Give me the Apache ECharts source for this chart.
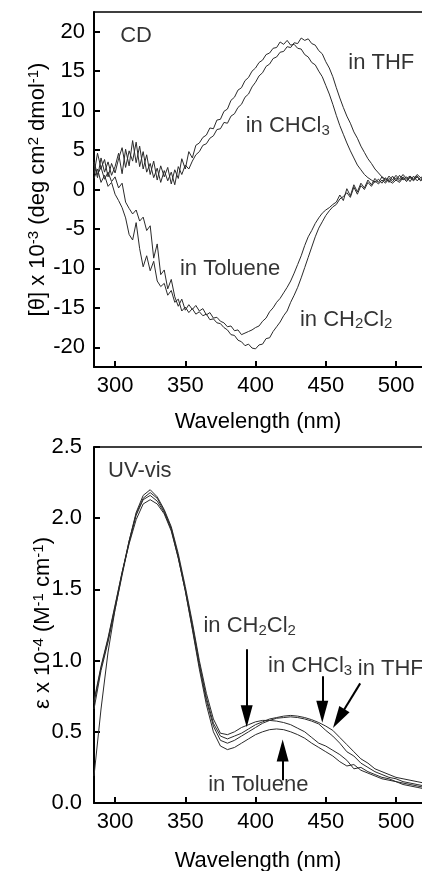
<!DOCTYPE html>
<html>
<head>
<meta charset="utf-8">
<title>CD / UV-vis spectra</title>
<script src="https://cdn.jsdelivr.net/npm/echarts@6/dist/echarts.min.js"></script>
<style>
  html, body { margin: 0; padding: 0; background: #fff; }
  #chart { width: 422px; height: 871px; }
</style>
</head>
<body>
<div id="chart"></div>
<script>
(function () {
    'use strict';

    //////////DATA - CD (deg cm2 dmol-1 x 10^-3), sampled every 2.5 nm
    var cdWavelength = [
        285, 287.5, 290, 292.5, 295, 297.5, 300, 302.5, 305, 307.5,
        310, 312.5, 315, 317.5, 320, 322.5, 325, 327.5, 330, 332.5,
        335, 337.5, 340, 342.5, 345, 347.5, 350, 352.5, 355, 357.5,
        360, 362.5, 365, 367.5, 370, 372.5, 375, 377.5, 380, 382.5,
        385, 387.5, 390, 392.5, 395, 397.5, 400, 402.5, 405, 407.5,
        410, 412.5, 415, 417.5, 420, 422.5, 425, 427.5, 430, 432.5,
        435, 437.5, 440, 442.5, 445, 447.5, 450, 452.5, 455, 457.5,
        460, 462.5, 465, 467.5, 470, 472.5, 475, 477.5, 480, 482.5,
        485, 487.5, 490, 492.5, 495, 497.5, 500, 502.5, 505, 507.5,
        510, 512.5, 515, 517.5, 520
    ];
    var cdTHF = [
        2.0, 4.6, 2.7, 3.8, 1.6, 3.3, 2.1, 3.9, 5.3, 2.8,
        4.9, 3.6, 6.0, 2.9, 4.8, 2.2, 3.3, 1.5, 2.7, 0.9,
        2.4, 1.1, 2.2, 0.6, 2.9, 1.9, 3.1, 2.6, 3.6, 4.4,
        4.8, 5.6, 5.8, 6.5, 6.8, 7.6, 7.7, 8.5, 8.4, 9.3,
        9.6, 10.4, 10.8, 11.7, 12.1, 13.0, 13.6, 14.4, 14.8, 15.6,
        15.9, 16.6, 16.8, 17.4, 17.5, 18.1, 18.0, 18.6, 18.5, 19.2,
        18.9, 19.1, 18.5, 18.3, 17.6, 17.2, 16.2, 15.4, 14.3, 12.9,
        11.6, 10.4, 9.3, 8.4, 7.3, 6.5, 5.5, 4.7, 3.9, 3.3,
        2.6, 2.1, 1.6, 1.3, 1.1, 0.8, 1.2, 0.9, 1.5, 1.0,
        1.6, 1.2, 1.7, 1.1, 1.4
    ];
    var cdCHCl3 = [
        3.2, 1.5, 4.0, 2.2, 3.5, 1.8, 2.9, 4.6, 2.0, 5.1,
        3.0, 6.2, 3.4, 5.5, 2.6, 4.4, 1.9, 3.6, 1.2, 3.0,
        1.6, 2.8, 0.7, 2.5, 1.4, 3.9, 2.6, 4.8, 4.0, 5.6,
        5.9, 6.6, 6.9, 7.8, 7.7, 8.8, 8.9, 9.9, 10.2, 11.3,
        11.7, 12.6, 12.9, 13.8, 14.2, 15.0, 15.4, 16.1, 16.4, 17.1,
        17.3, 17.9, 18.0, 18.7, 18.4, 18.9, 18.3, 18.4, 17.9, 17.8,
        17.1, 16.8, 16.1, 15.8, 15.0, 14.3, 13.2, 12.1, 10.8, 9.4,
        8.1, 7.0, 5.9, 4.9, 4.0, 3.1, 2.5, 1.9, 1.5, 1.2,
        0.9, 1.3, 0.8, 1.5, 0.9, 1.7, 1.1, 1.8, 1.2, 1.6,
        1.0, 1.7, 1.1, 1.5, 1.2
    ];
    var cdToluene = [
        3.5, 1.9, 2.8, 1.3, 2.2, 1.0, 1.6, 0.2, 0.8, -1.6,
        -2.4, -3.1, -2.6, -4.0, -3.5, -5.2, -4.6, -8.7, -6.9, -10.8,
        -10.2, -12.6, -11.4, -13.6, -14.8, -13.9, -15.3, -14.6, -15.2, -14.7,
        -15.4, -15.1, -15.9, -15.6, -16.3, -16.2, -16.7, -16.9, -17.4, -17.3,
        -17.9, -17.8, -18.4, -18.2, -18.0, -17.8, -17.5, -17.3, -16.7, -16.3,
        -15.5, -15.0, -14.3, -13.8, -13.1, -12.4, -11.6, -10.6, -9.5, -8.4,
        -7.1, -6.0, -5.2, -4.3, -3.6, -3.0, -2.6, -2.3, -1.9, -1.6,
        -0.7, -1.4, 0.1, -0.8, 0.6, -0.3, 0.8, 0.2, 1.2, 0.6,
        1.4, 0.9, 1.6, 1.0, 1.7, 1.2, 1.8, 1.3, 1.9, 1.4,
        1.7, 1.3, 1.9, 1.5, 1.7
    ];
    var cdCH2Cl2 = [
        1.4, 2.6, 0.9, 1.8, 0.4, 0.9, -0.6, -1.4, -2.3, -3.6,
        -5.7, -6.4, -4.2, -7.5, -9.8, -8.4, -10.3, -9.1, -11.6, -12.3,
        -11.9, -13.4, -12.8, -14.3, -13.9, -15.4, -14.9, -15.6, -15.1, -15.8,
        -15.5, -16.0, -15.8, -16.5, -16.4, -16.9, -17.0, -17.5, -17.8, -18.4,
        -18.5, -19.1, -19.3, -19.8, -19.6, -20.1, -20.2, -19.7, -19.6, -18.9,
        -18.8, -18.0, -17.4, -16.8, -16.0, -15.4, -14.3, -13.4, -12.4, -11.2,
        -9.9, -8.6, -7.3, -6.0, -4.9, -4.1, -3.3, -2.7, -2.2, -1.9,
        -1.2, -0.9, -0.4, -1.0, 0.3, -0.6, 0.5, 0.0, 0.9, 0.4,
        1.1, 0.7, 1.2, 0.8, 1.4, 1.0, 1.5, 1.1, 1.6, 1.2,
        1.5, 1.1, 1.6, 1.2, 1.4
    ];

    //////////DATA - UV-vis (M-1 cm-1 x 10^-4), sampled every 5 nm
    var uvWavelength = [
        285, 290, 295, 300, 305, 310, 315, 320, 325, 330,
        335, 340, 345, 350, 355, 360, 365, 370, 375, 380,
        385, 390, 395, 400, 405, 410, 415, 420, 425, 430,
        435, 440, 445, 450, 455, 460, 465, 470, 475, 480,
        485, 490, 495, 500, 505, 510, 515, 520
    ];
    var uvTHF = [
        0.70, 0.95, 1.15, 1.38, 1.62, 1.84, 2.03, 2.14, 2.18, 2.14,
        2.05, 1.93, 1.73, 1.50, 1.25, 0.98, 0.74, 0.56, 0.47, 0.45,
        0.47, 0.49, 0.52, 0.55, 0.57, 0.59, 0.60, 0.61, 0.615, 0.61,
        0.60, 0.585, 0.565, 0.54, 0.51, 0.46, 0.41, 0.36, 0.31, 0.28,
        0.24, 0.22, 0.20, 0.18, 0.17, 0.16, 0.15, 0.14
    ];
    var uvCHCl3 = [
        0.66, 0.93, 1.13, 1.36, 1.60, 1.83, 2.02, 2.13, 2.16, 2.12,
        2.04, 1.92, 1.72, 1.49, 1.23, 0.96, 0.72, 0.54, 0.44, 0.42,
        0.44, 0.47, 0.50, 0.53, 0.56, 0.58, 0.595, 0.60, 0.605, 0.60,
        0.59, 0.575, 0.555, 0.51, 0.47, 0.42, 0.36, 0.33, 0.28, 0.25,
        0.22, 0.20, 0.18, 0.17, 0.15, 0.14, 0.13, 0.12
    ];
    var uvToluene = [
        0.72, 0.96, 1.16, 1.39, 1.62, 1.82, 1.99, 2.10, 2.13, 2.10,
        2.03, 1.91, 1.72, 1.49, 1.22, 0.94, 0.69, 0.50, 0.40, 0.375,
        0.39, 0.42, 0.45, 0.48, 0.50, 0.515, 0.52, 0.515, 0.50, 0.48,
        0.455, 0.42, 0.39, 0.36, 0.33, 0.29, 0.26, 0.27, 0.23, 0.21,
        0.19, 0.17, 0.16, 0.15, 0.13, 0.12, 0.11, 0.10
    ];
    var uvCH2Cl2 = [
        0.19, 0.66, 1.06, 1.36, 1.61, 1.84, 2.04, 2.16, 2.20, 2.15,
        2.06, 1.94, 1.75, 1.52, 1.27, 1.00, 0.77, 0.59, 0.49, 0.48,
        0.50, 0.53, 0.55, 0.57, 0.58, 0.58, 0.575, 0.565, 0.55, 0.525,
        0.50, 0.46, 0.42, 0.40, 0.37, 0.34, 0.30, 0.24, 0.25, 0.22,
        0.20, 0.18, 0.17, 0.15, 0.14, 0.13, 0.12, 0.11
    ];

    //////////Tick labels
    var xTicks = [300, 350, 400, 450, 500];
    var cdTicks = [-20, -15, -10, -5, 0, 5, 10, 15, 20];
    var uvTicks = [0, 0.5, 1.0, 1.5, 2.0, 2.5];

    //////////Annotations: text, wavelength, value
    var cdNotes = [
        ['CD', 303.6, 19.5],
        ['in THF', 466, 16.1],
        ['in CHCl{sub|3}', 393, 8.0],
        ['in Toluene', 346.2, -10.1],
        ['in CH{sub|2}Cl{sub|2}', 431.6, -16.5]
    ];
    var uvNotes = [
        ['UV-vis', 295, 2.335],
        ['in CH{sub|2}Cl{sub|2}', 362.9, 1.24],
        ['in CHCl{sub|3}', 408.9, 0.96],
        ['in THF', 472.8, 0.94],
        ['in Toluene', 366.3, 0.13]
    ];
    //arrows: from -> to (wavelength, value)
    var uvArrows = [
        [[393.7, 1.08], [393.7, 0.61]],
        [[447.5, 0.89], [447.5, 0.64]],
        [[474.5, 0.84], [459.2, 0.593]],
        [[419.3, 0.16], [419.3, 0.368]]
    ];

    ////////////CHART
    var FONT = 'Liberation Sans, Arial, Helvetica, sans-serif';
    var SIZE = 22;
    var rich = {
        sub: { fontSize: 15, fontFamily: FONT, color: '#000', lineHeight: 13, verticalAlign: 'bottom' },
        sup: { fontSize: 15, fontFamily: FONT, color: '#000', lineHeight: 13, verticalAlign: 'top' }
    };
    var textStyle = { fontSize: SIZE, fontFamily: FONT, color: '#000', lineHeight: 24, rich: rich };
    var black = { color: '#000', width: 2 };

    function pairs(xs, ys) {
        return xs.map(function (x, i) { return [x, ys[i]]; });
    }

    function xAxisBottom(gridIndex, gap) {
        return {
            type: 'value', gridIndex: gridIndex, position: 'bottom',
            min: 285, max: 518.5,
            name: 'Wavelength (nm)', nameLocation: 'middle', nameGap: gap,
            nameMoveOverlap: false,
            nameTextStyle: textStyle,
            axisLine: { show: true, onZero: false, lineStyle: black },
            axisTick: { show: true, inside: true, length: 6, lineStyle: black, customValues: xTicks },
            axisLabel: { show: true, margin: 8, fontSize: SIZE, fontFamily: FONT, color: '#000', customValues: xTicks },
            splitLine: { show: false }
        };
    }
    function xAxisTop(gridIndex) {
        return {
            type: 'value', gridIndex: gridIndex, position: 'top',
            min: 285, max: 518.5,
            axisLine: { show: true, onZero: false, lineStyle: { color: '#000', width: 1.5 } },
            axisTick: { show: false }, axisLabel: { show: false }, splitLine: { show: false }
        };
    }
    function yAxis(gridIndex, min, max, ticks, name, gap, shift, margin, fmt) {
        return {
            type: 'value', gridIndex: gridIndex, position: 'left',
            min: min, max: max,
            name: name, nameLocation: 'middle', nameGap: gap,
            nameMoveOverlap: false,
            nameTextStyle: Object.assign({ padding: [0, 0, 0, shift] }, textStyle),
            axisLine: { show: true, onZero: false, lineStyle: black },
            axisTick: { show: true, inside: true, length: 6, lineStyle: black, customValues: ticks },
            axisLabel: { show: true, margin: margin, fontSize: SIZE, fontFamily: FONT, color: '#000',
                         customValues: ticks, formatter: fmt },
            splitLine: { show: false }
        };
    }
    function spectrum(name, xs, ys, xi, yi) {
        return {
            name: name, type: 'line', xAxisIndex: xi, yAxisIndex: yi,
            data: pairs(xs, ys), showSymbol: false, silent: true, clip: true,
            lineStyle: { color: '#2a2a2a', width: 1 }
        };
    }
    function notes(items, xi, yi) {
        return {
            type: 'scatter', xAxisIndex: xi, yAxisIndex: yi, symbolSize: 0, silent: true,
            data: items.map(function (d) { return { name: d[0], value: [d[1], d[2]] }; }),
            label: Object.assign({ show: true, position: 'right', distance: 0,
                                   formatter: function (p) { return p.name; } }, textStyle)
        };
    }

    var chart = echarts.init(document.getElementById('chart'));
    var option = {
        animation: false,
        backgroundColor: '#fff',
        grid: [
            { left: 94, right: 0, top: 12, height: 355, outerBoundsMode: 'none' },
            { left: 94, right: 0, top: 447, height: 356, outerBoundsMode: 'none' }
        ],
        xAxis: [xAxisBottom(0, 43), xAxisTop(0), xAxisBottom(1, 46), xAxisTop(1)],
        yAxis: [
            yAxis(0, -22.5, 22.5, cdTicks,
                  '[θ] x 10{sup|-3} (deg cm{sup|2} dmol{sup|-1})', 44, 0, 9, null),
            yAxis(1, 0, 2.5, uvTicks,
                  'ε x 10{sup|-4} (M{sup|-1} cm{sup|-1})', 39, 4, 12,
                  function (v) { return v.toFixed(1); })
        ],
        series: [
            spectrum('CD THF', cdWavelength, cdTHF, 0, 0),
            spectrum('CD CHCl3', cdWavelength, cdCHCl3, 0, 0),
            spectrum('CD Toluene', cdWavelength, cdToluene, 0, 0),
            spectrum('CD CH2Cl2', cdWavelength, cdCH2Cl2, 0, 0),
            spectrum('UV THF', uvWavelength, uvTHF, 2, 1),
            spectrum('UV CHCl3', uvWavelength, uvCHCl3, 2, 1),
            spectrum('UV Toluene', uvWavelength, uvToluene, 2, 1),
            spectrum('UV CH2Cl2', uvWavelength, uvCH2Cl2, 2, 1),
            notes(cdNotes, 0, 0),
            notes(uvNotes, 2, 1)
        ]
    };
    //arrows pointing at the UV curves
    option.series[7].markLine = {
        silent: true, animation: false,
        symbol: ['none', 'triangle'],
        label: { show: false },
        lineStyle: { color: '#000', width: 2, type: 'solid' },
        data: uvArrows.map(function (a) {
            return [
                { coord: a[0], symbol: 'none' },
                { coord: a[1], symbol: 'triangle', symbolSize: [12, 22] }
            ];
        })
    };
    chart.setOption(option);
})();
</script>
</body>
</html>
